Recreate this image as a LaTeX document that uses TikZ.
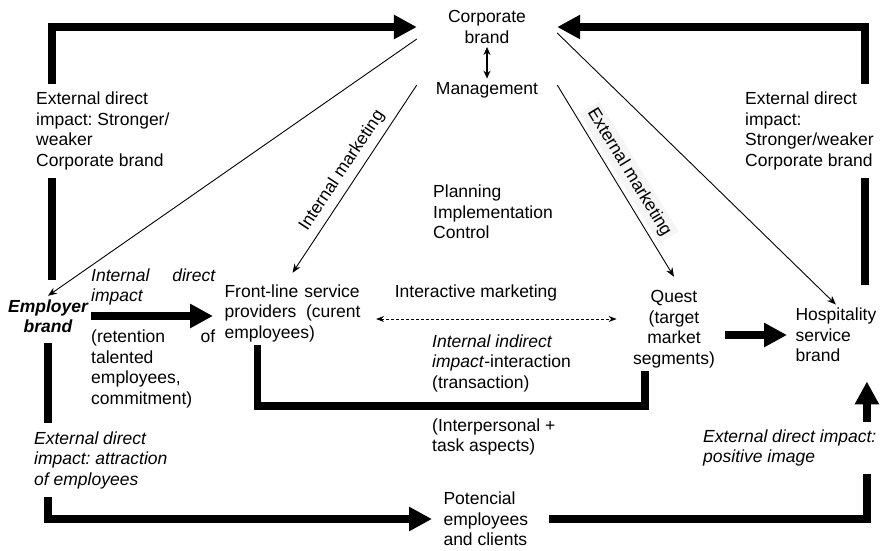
\documentclass[tikz,border=0pt]{standalone}
\usepackage{fontspec}
\setmainfont{Liberation Sans}
\usetikzlibrary{arrows.meta,positioning}
\newcommand\diagfont{\fontsize{17.5}{20.5}\selectfont}
\frenchspacing

\begin{document}
\begin{tikzpicture}[x=1pt, y=-1pt, font=\diagfont,
    heavy/.style={line width=7.5pt},
    bigarrow/.style={line width=7.5pt, -{Triangle[length=23pt,width=23pt]}},
    thinarrow/.style={line width=0.9pt, -{Stealth[length=9pt,width=7pt]}},
    cover/.style={align=left, fill=white, inner sep=8pt}]
    \useasboundingbox (0,0) rectangle (883,550);

    \node[align=center, minimum width=140pt] (corp) at (487,27) {Corporate\\brand};
    \node[minimum width=140pt] (mgmt) at (487,90) {Management};
    \node[anchor=west, align=left, inner sep=0pt] (plan) at (433,212) {Planning\\Implementation\\Control};

    \node[align=center, font=\diagfont\bfseries\itshape] (emp) at (48,316) {Employer\\brand};
    \node[anchor=west, align=left, inner sep=0pt, text width=124pt, font=\diagfont\itshape] (intdir) at (91,287) {Internal\hfill direct\\impact};
    \node[anchor=west, align=left, inner sep=0pt, text width=124pt] (reten) at (91,369) {(retention\hfill of\\talented\\employees,\\commitment)};

    \node[anchor=west, align=left, text width=136pt] (front) at (221,313) {Front-line service\\providers \hfill(curent\\employees)};
    \node (inter) at (476,293) {Interactive marketing};
    \node[align=center] (quest) at (674,329) {Quest\\(target\\market\\segments)};
    \node[anchor=west, align=left] (hosp) at (792,335) {Hospitality\\service\\brand};
    \node[anchor=west, align=left, inner sep=0pt] (indir) at (432,363) {\textit{Internal indirect}\\\textit{impact}-interaction\\(transaction)};
    \node[anchor=west, align=left, inner sep=0pt] (aspects) at (432,437) {(Interpersonal +\\task aspects)};
    \node[anchor=west, align=left] (pot) at (440,519) {Potencial\\employees\\and clients};

    \draw[bigarrow] ([xshift=4pt,yshift=16pt]emp.north) |- (corp.west);
    \draw[bigarrow] ([xshift=-15pt,yshift=20pt]hosp.north east) |- (corp.east);
    \draw[bigarrow, shorten >=8pt] (emp.east) -- (emp.east -| front.west);
    \draw[bigarrow, shorten <=7pt, shorten >=5pt] (quest.east |- hosp.west) -- (hosp.west);
    \draw[bigarrow, shorten <=7pt, shorten >=8pt] (emp.south) |- (pot.west);
    \draw[bigarrow, shorten <=17pt] (pot.east) -| ([xshift=31pt,yshift=-16pt]hosp.south);
    \draw[heavy] ([xshift=-35pt]front.south) -- ++(0,61) -| ([xshift=-29pt]quest.south);

    \draw[thinarrow] ([yshift=8pt]corp.south west) -- (emp.north);
    \draw[thinarrow] ([yshift=-6pt]corp.east) -- (hosp.north);
    \draw[line width=1.2pt, {Stealth[length=8pt,width=7pt]}-{Stealth[length=8pt,width=7pt]}] (corp) -- (mgmt);
    \draw[thinarrow] ([yshift=5pt]mgmt.west) -- node[sloped, above=3pt] {Internal marketing} ([yshift=8pt]front.north);
    \draw[thinarrow] ([yshift=5pt]mgmt.east) -- node[sloped, above=4pt, fill=gray!8] {External marketing} ([yshift=10pt]quest.north);
    \draw[line width=0.9pt, dash pattern=on 3pt off 2pt, {Stealth[length=8pt,width=6pt]}-{Stealth[length=8pt,width=6pt]}, shorten <=12pt, shorten >=13pt] ([yshift=-6pt]front.east) -- ([yshift=-6pt]front.east -| quest.west);

    \node[cover, anchor=west] (extl) at (28,131) {External direct\\impact: Stronger/\\weaker\\Corporate brand};
    \node[cover, anchor=west] (extr) at (737,131) {External direct\\impact:\\Stronger/weaker\\Corporate brand};
    \node[cover, anchor=west, font=\diagfont\itshape] (attr) at (26,460) {External direct\\impact: attraction\\of employees};
    \node[cover, anchor=west, font=\diagfont\itshape] (posi) at (695,448) {External direct impact:\\positive image};
\end{tikzpicture}
\end{document}
